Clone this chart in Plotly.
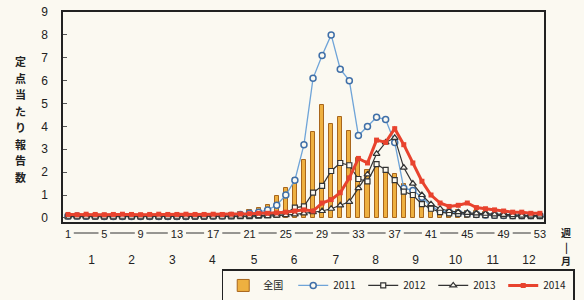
import plotly.graph_objects as go

weeks = list(range(1, 54))

national = [0.12, 0.12, 0.11, 0.10, 0.10, 0.10, 0.10, 0.10, 0.10, 0.10,
            0.10, 0.11, 0.11, 0.12, 0.12, 0.13, 0.14, 0.16, 0.20, 0.25,
            0.35, 0.45, 0.55, 0.95, 1.30, 1.75, 2.55, 3.75, 4.95, 4.10,
            4.40, 3.80, 2.60, 2.10, 2.40, 2.20, 1.90, 1.50, 1.10, 0.75,
            0.50, 0.40, 0.35, 0.35, 0.30, 0.30, 0.25, 0.25, 0.20, 0.20,
            0.18, 0.15, 0.15]

y2011 = [0.08, 0.08, 0.07, 0.07, 0.06, 0.06, 0.06, 0.06, 0.06, 0.06,
         0.06, 0.06, 0.06, 0.06, 0.07, 0.07, 0.08, 0.09, 0.10, 0.15,
         0.20, 0.25, 0.35, 0.55, 1.00, 1.65, 3.20, 6.10, 7.10, 8.00,
         6.50, 6.00, 3.60, 4.00, 4.40, 4.30, 3.30, 1.30, 1.20, 0.90,
         0.50, 0.30, 0.25, 0.20, 0.18, 0.15, 0.13, 0.12, 0.10, 0.10,
         0.10, 0.10, 0.10]

y2012 = [0.06, 0.06, 0.06, 0.05, 0.05, 0.05, 0.05, 0.05, 0.05, 0.05,
         0.05, 0.05, 0.05, 0.05, 0.05, 0.05, 0.06, 0.06, 0.07, 0.08,
         0.08, 0.10, 0.12, 0.15, 0.20, 0.45, 0.50, 1.10, 1.40, 2.05,
         2.40, 2.30, 1.70, 1.60, 2.35, 2.10, 1.65, 1.15, 1.00, 0.60,
         0.40, 0.25, 0.20, 0.18, 0.15, 0.13, 0.12, 0.10, 0.10, 0.08,
         0.08, 0.08, 0.08]

y2013 = [0.05, 0.05, 0.05, 0.05, 0.05, 0.05, 0.05, 0.05, 0.05, 0.05,
         0.05, 0.05, 0.05, 0.05, 0.05, 0.05, 0.05, 0.05, 0.06, 0.06,
         0.07, 0.08, 0.08, 0.10, 0.12, 0.15, 0.20, 0.25, 0.30, 0.40,
         0.55, 0.70, 1.30, 1.90, 2.80, 3.30, 3.50, 2.20, 1.50, 1.00,
         0.60, 0.40, 0.30, 0.25, 0.22, 0.20, 0.18, 0.15, 0.13, 0.12,
         0.10, 0.10, 0.10]

y2014 = [0.15, 0.14, 0.16, 0.15, 0.14, 0.15, 0.16, 0.15, 0.14, 0.15,
         0.16, 0.15, 0.15, 0.16, 0.15, 0.15, 0.16, 0.15, 0.16, 0.17,
         0.18, 0.20, 0.20, 0.22, 0.25, 0.30, 0.35, 0.30, 0.65, 0.80,
         1.10, 1.75, 2.60, 2.40, 3.40, 3.30, 3.90, 3.20, 2.40, 1.60,
         1.00, 0.65, 0.50, 0.55, 0.65, 0.45, 0.40, 0.35, 0.30, 0.25,
         0.25, 0.20, 0.20]

week_ticks = [1, 5, 9, 13, 17, 21, 25, 29, 33, 37, 41, 45, 49, 53]
month_labels = ["1", "2", "3", "4", "5", "6", "7", "8", "9", "10", "11", "12"]
month_pos = [3.6, 8.0, 12.5, 16.9, 21.5, 25.9, 30.5, 34.9, 39.3, 43.7, 47.8, 51.8]
y_ticks = [0, 1, 2, 3, 4, 5, 6, 7, 8, 9]
y_title = "定点当たり報告数"
unit_label = ["週", "|", "月"]

BG = "#fbf9f1"
FONT = "Liberation Sans, Arial, sans-serif"
JP = "Noto Sans CJK JP, sans-serif"
INK = "#222222"

fig = go.Figure()
fig.add_trace(go.Bar(x=weeks, y=national, name="全国", width=0.45,
                     marker=dict(color="#eeb040", line=dict(color="#a8661c", width=1))))
fig.add_trace(go.Scatter(x=weeks, y=y2011, name="2011", mode="lines+markers",
                         line=dict(color="#6fa4d8", width=1.3),
                         marker=dict(symbol="circle", size=6, color=BG,
                                     line=dict(color="#3f6fa8", width=1.5))))
fig.add_trace(go.Scatter(x=weeks, y=y2012, name="2012", mode="lines+markers",
                         line=dict(color="#333333", width=1.2),
                         marker=dict(symbol="square", size=5, color=BG,
                                     line=dict(color="#333333", width=1.2))))
fig.add_trace(go.Scatter(x=weeks, y=y2013, name="2013", mode="lines+markers",
                         line=dict(color="#333333", width=1.2),
                         marker=dict(symbol="triangle-up", size=6, color=BG,
                                     line=dict(color="#333333", width=1.2))))
fig.add_trace(go.Scatter(x=weeks, y=y2014, name="2014", mode="lines+markers",
                         line=dict(color="#e8432e", width=3),
                         marker=dict(symbol="square", size=5, color="#e8432e")))

# invisible trace for month axis
fig.add_trace(go.Scatter(x=month_pos, y=[0]*len(month_pos), xaxis="x2", mode="markers",
                         marker=dict(opacity=0), showlegend=False, hoverinfo="skip"))

xr = [0.45, 53.45]
fig.update_layout(
    width=584, height=300,
    margin=dict(l=63, r=40, t=12, b=78, autoexpand=False),
    paper_bgcolor=BG, plot_bgcolor=BG,
    font=dict(family=FONT, size=11, color=INK),
    showlegend=True,
    bargap=0,
    xaxis=dict(range=xr, tickvals=week_ticks, ticktext=[str(t) for t in week_ticks],
               showgrid=False, zeroline=False, showline=True, linecolor=INK,
               linewidth=1.5, mirror=True, ticks="outside", ticklen=1,
               tickcolor="rgba(0,0,0,0)", tickfont=dict(size=11), automargin=False),
    xaxis2=dict(range=xr, overlaying="x", anchor="y", side="bottom",
                tickvals=month_pos, ticktext=month_labels, showgrid=False,
                zeroline=False, showline=False, ticks="outside", ticklen=27,
                tickcolor="rgba(0,0,0,0)", tickfont=dict(size=12), automargin=False),
    yaxis=dict(range=[-0.18, 9], tickvals=y_ticks, showgrid=False, zeroline=False,
               showline=True, linecolor=INK, linewidth=1.5, mirror=True,
               ticks="inside", ticklen=4, tickcolor="#555555",
               ticklabelstandoff=11, tickfont=dict(size=12), automargin=False),
    legend=dict(orientation="h", x=0.33, xanchor="left", y=-0.226, yanchor="top",
                bordercolor=INK, borderwidth=1.5, bgcolor=BG,
                font=dict(size=10, family=JP), itemwidth=30, tracegroupgap=0,
                entrywidth=25, entrywidthmode="pixels"),
)

# dashes joining the week labels
ly = -(233 - 222) / 210
for a, b in zip(week_ticks[:-1], week_ticks[1:]):
    ha = (len(str(a)) * 3.3 + 2.5) / 9.08
    hb = (len(str(b)) * 3.3 + 2.5) / 9.08
    fig.add_shape(type="line", xref="x", yref="paper", x0=a + ha, x1=b - hb,
                  y0=ly, y1=ly, line=dict(color="#333333", width=1))

for i, ch in enumerate(y_title):
    fig.add_annotation(text="<b>" + ch + "</b>", xref="paper", yref="paper",
                       x=-(63 - 20) / 481, y=(222 - (61 + 16.5 * i)) / 210,
                       xanchor="center", yanchor="middle",
                       showarrow=False, font=dict(family=JP, size=11, color=INK))
for i, ch in enumerate(unit_label):
    fig.add_annotation(text="<b>" + ch + "</b>", xref="paper", yref="paper",
                       x=1 + (566 - 544) / 481, y=-(232 + 14 * i - 222) / 210,
                       xanchor="center", yanchor="middle",
                       showarrow=False, font=dict(family=JP, size=10, color=INK))

fig.write_html("out.html", post_script="document.body.style.margin='0';",
               config={"displayModeBar": False})
